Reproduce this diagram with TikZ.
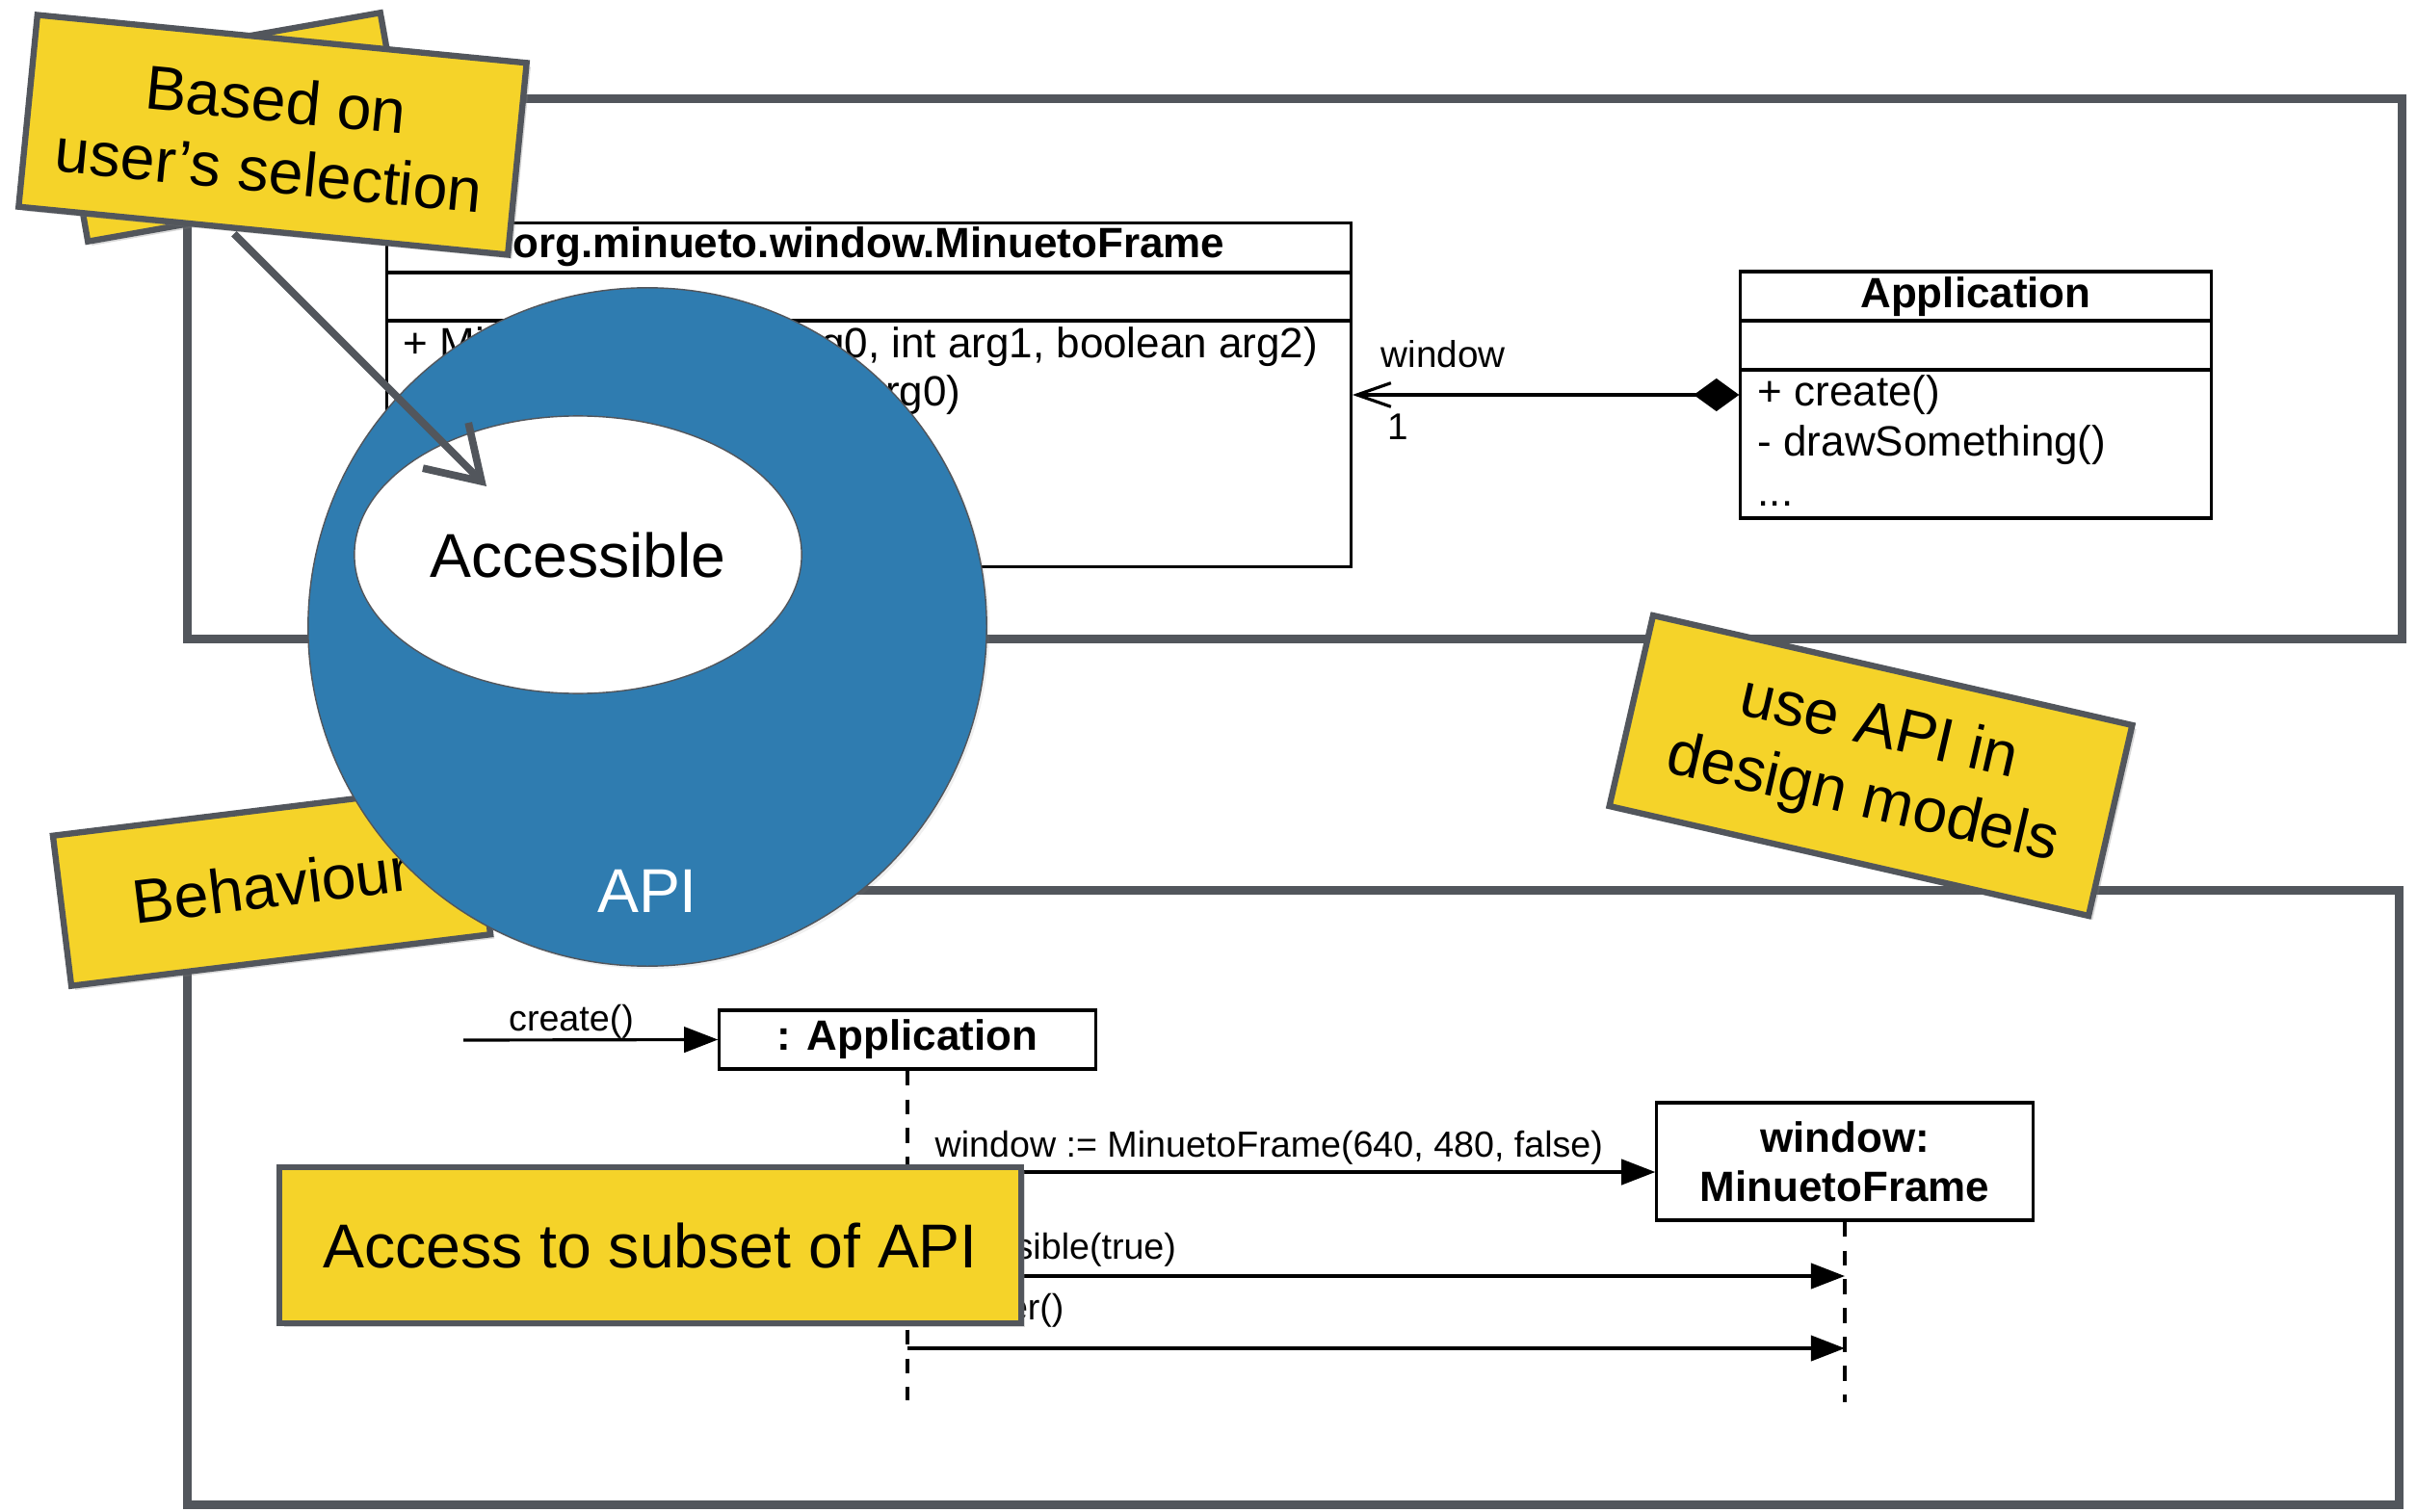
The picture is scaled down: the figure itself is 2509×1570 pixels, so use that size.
\documentclass[tikz,border=0pt]{standalone}
\usepackage{fontspec}
\setmainfont{Liberation Sans}
\usetikzlibrary{arrows.meta,calc,positioning,shadows,shapes.geometric}

\definecolor{noteyellow}{RGB}{245,211,41}
\definecolor{sketchgray}{RGB}{82,86,92}
\definecolor{apiblue}{RGB}{47,124,176}

\newcommand\umlfont{\fontsize{12.5}{15}\selectfont}
\newcommand\msgfont{\fontsize{10.7}{13}\selectfont}
\newcommand\notefont{\fontsize{18.3}{21}\selectfont}

\tikzset{
	sketchframe/.style={draw=sketchgray, line width=2.6pt, inner sep=0pt},
	note/.style={draw=sketchgray, line width=1.8pt, fill=noteyellow, inner sep=0pt, align=center, font=\notefont,
		drop shadow={opacity=0.3, shadow xshift=1.2pt, shadow yshift=-1.2pt}},
	umlbox/.style={draw, line width=0.9pt, inner sep=0pt},
	umltext/.style={font=\umlfont, inner sep=0pt},
	msgtext/.style={font=\msgfont, inner sep=0pt},
	msg/.style={line width=0.9pt, -{Triangle[length=10pt,width=7.5pt]}},
	lifeline/.style={line width=0.9pt, dash pattern=on 4.5pt off 4pt},
}

\begin{document}
\begin{tikzpicture}[x=0.01cm, y=-0.01cm]
		%%%%% START %%%%%
		\useasboundingbox (0,0) rectangle (2509,1570);
		
		% frames
		\node[sketchframe, minimum width=22.98cm, minimum height=5.6cm] (structframe) at (1344,383) {};
		\node[sketchframe, minimum width=22.95cm, minimum height=6.37cm] (behavframe) at (1342.5,1243.5) {};
		
		% class diagram
		\node[umlbox, minimum width=10cm, minimum height=3.56cm] (mfcls) at (902,410) {};
		\draw[line width=0.9pt] (mfcls.west |- 0,283) -- (mfcls.east |- 0,283);
		\draw[line width=0.9pt] (mfcls.west |- 0,333) -- (mfcls.east |- 0,333);
		\node[umltext, anchor=base, font=\umlfont\bfseries] (mftitle) at (902,268) {org.minueto.window.MinuetoFrame};
		\node[umltext, anchor=base west] (mfop1) at (418,372) {+ MinuetoFrame(int arg0, int arg1, boolean arg2)};
		\node[umltext, anchor=base west] (mfop2) at (418,422) {+ setWindowTitle(String arg0)};
		
		\node[umlbox, minimum width=4.88cm, minimum height=2.56cm] (appcls) at (2051,410) {};
		\draw[line width=0.9pt] (appcls.west |- 0,333) -- (appcls.east |- 0,333);
		\draw[line width=0.9pt] (appcls.west |- 0,384) -- (appcls.east |- 0,384);
		\node[umltext, anchor=base, font=\umlfont\bfseries] (apptitle) at (2051,320) {Application};
		\node[umltext, anchor=base west] (appop1) at (1824,422) {+ create()};
		\node[umltext, anchor=base west] (appop2) at (1824,473) {- drawSomething()};
		\node[umltext, anchor=base west] (appop3) at (1824,525) {...};
		
		\draw[line width=0.9pt, {Straight Barb[length=10pt,width=7pt]}-{Diamond[length=13.4pt,width=9.7pt]}] (mfcls.east) -- (appcls.west);
		\node[inner sep=0pt, anchor=base west, font=\fontsize{11}{13}\selectfont] (rolelbl) at (1433,382) {window};
		\node[inner sep=0pt, anchor=base west, font=\fontsize{11}{13}\selectfont] (multlbl) at (1440,457) {1};
		
		% sequence diagram
		\node[umlbox, minimum width=3.9cm, minimum height=0.61cm, font=\umlfont\bfseries] (appobj) at (942,1079.5) {: Application};
		\node[umlbox, minimum width=3.9cm, minimum height=1.22cm, align=center, font=\fontsize{12.5}{14.5}\selectfont\bfseries] (winobj) at (1915,1206) {window:\\MinuetoFrame};
		\coordinate (createstart) at (481,1080);
		\coordinate (append) at (942,1454);
		\coordinate (winend) at (1915,1456);
		\draw[lifeline] (appobj.south) -- (append);
		\draw[lifeline] (winobj.south) -- (winend);
		
		\draw[msg] (createstart) -- (appobj.west);
		\node[msgtext, anchor=base] (createlbl) at (593,1070) {create()};
		\draw[msg] (appobj.south |- 0,1217) -- (winobj.west |- 0,1217);
		\node[msgtext, anchor=base west] (newlbl) at (970,1201) {window := MinuetoFrame(640, 480, false)};
		\draw[msg] (appobj.south |- 0,1325) -- (winobj.south |- 0,1325);
		\node[msgtext, anchor=base west] (showlbl) at (970,1307) {setVisible(true)};
		\draw[msg] (appobj.south |- 0,1400) -- (winobj.south |- 0,1400);
		\node[msgtext, anchor=base west] (renderlbl) at (970,1370) {render()};
		
		% notes behind the API
		\node[note, minimum width=3.4cm, minimum height=1.81cm, rotate=10] (backnote) at (243,132) {};
		\node[note, minimum width=5.1cm, minimum height=2cm, rotate=-5.6] (selnote) at (283,140) {Based on\\user’s selection};
		\node[note, minimum width=4.38cm, minimum height=1.57cm, rotate=7] (behavnote) at (282,919) {Behaviour};
		
		% API
		\node[circle, fill=apiblue, draw=sketchgray, thin, minimum size=7.04cm, drop shadow={opacity=0.12, shadow xshift=0.8pt, shadow yshift=-0.8pt}] (api) at (672,651) {};
		\node[text=white, font=\notefont, inner sep=0pt] (apilbl) at (672,925) {API};
		\node[ellipse, fill=white, draw=sketchgray, thin, minimum width=4.64cm, minimum height=2.88cm, font=\notefont, inner sep=0pt] (acc) at (600,576) {Accessible};
		\draw[line width=2.2pt, sketchgray, -{Straight Barb[length=15pt,width=19pt]}] ($(selnote.south)+(-30,0)$) -- ($(acc.center)+(-95,-71)$);
		
		% notes on top
		\node[note, minimum width=5.1cm, minimum height=2.03cm, rotate=-12.9, font=\fontsize{18.3}{21.3}\selectfont] (usenote) at (1942,795) {use API in\\design models};
		\node[note, minimum width=7.69cm, minimum height=1.62cm] (accessnote) at (675,1293) {Access to subset of API};
		
		%%%%% END %%%%%
	\end{tikzpicture}
\end{document}
